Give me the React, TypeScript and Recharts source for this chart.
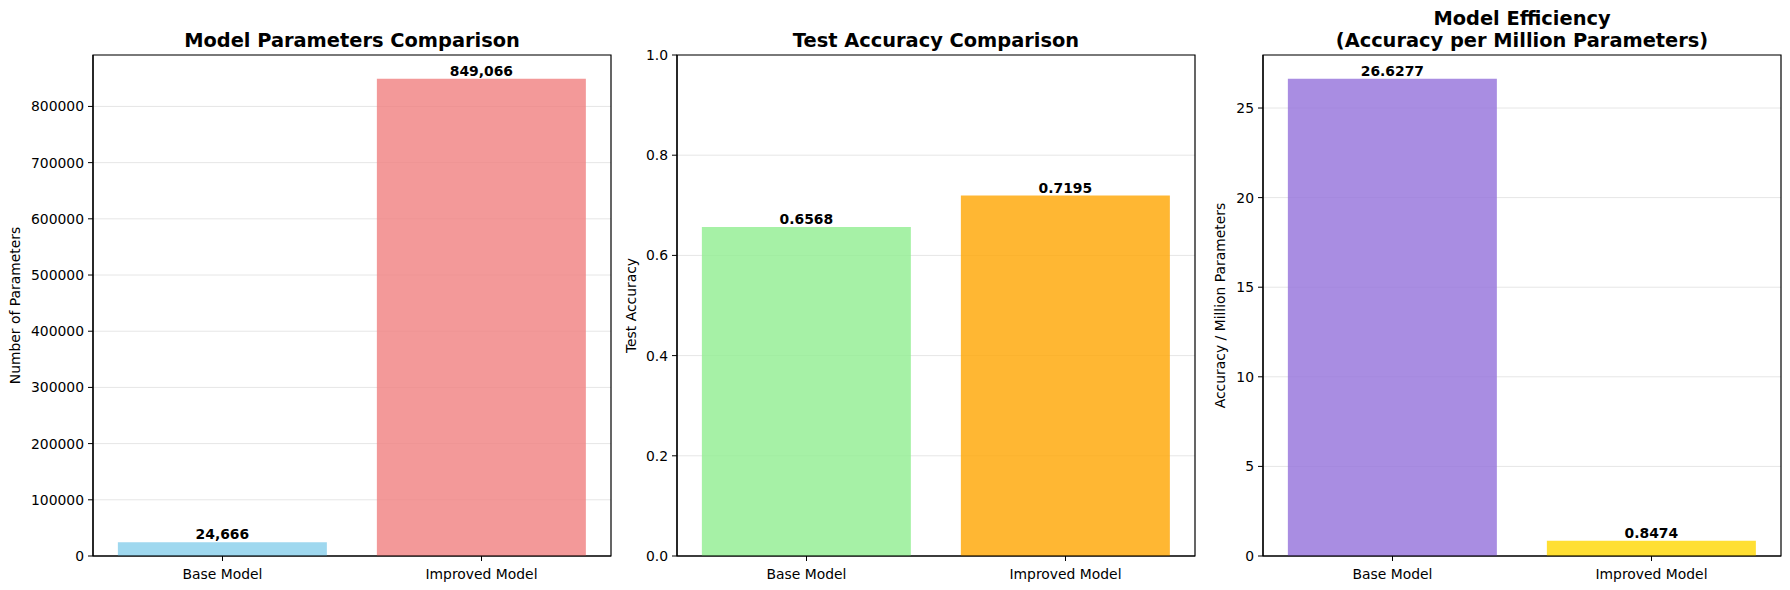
import React from "react";
import { BarChart, Bar, XAxis, YAxis, CartesianGrid, Cell, LabelList, ReferenceArea } from "recharts";

const models = ["Base Model", "Improved Model"];
const paramCounts = [24666, 849066];
const accuracies = [0.6568, 0.7195];
const efficiency = [26.6277, 0.8474];

const paramTicks = [0, 100000, 200000, 300000, 400000, 500000, 600000, 700000, 800000];
const accTicks = [0, 0.2, 0.4, 0.6, 0.8, 1.0];
const effTicks = [0, 5, 10, 15, 20, 25];

const paramColors = ["#87CEEB", "#F08080"];
const accColors = ["#90EE90", "#FFA500"];
const effColors = ["#9370DB", "#FFD700"];

const FONT = "'DejaVu Sans', sans-serif";
const FS = 13.9;

interface PanelProps {
  left: number;
  width: number;
  yWidth: number;
  rightMargin: number;
  values: number[];
  colors: string[];
  ticks: number[];
  domain: [number, number];
  tickFmt: (v: number) => string;
  labelFmt: (v: number) => string;
  yLabel: string;
  yLabelX: number;
  title: string[];
}

function Panel(p: PanelProps) {
  const data = models.map((m, i) => ({ name: m, value: p.values[i] }));
  const plotLeft = p.yWidth;
  const plotRight = p.width - p.rightMargin;
  const center = (plotLeft + plotRight) / 2;
  const tickStyle = { fill: "#000", fontSize: FS, fontFamily: FONT };

  return (
    <div style={{ position: "absolute", left: p.left, top: 0, width: p.width, height: 590 }}>
      <div
        style={{
          position: "absolute",
          left: center - 300,
          width: 600,
          bottom: 590 - 51.5,
          textAlign: "center",
          fontFamily: FONT,
          fontWeight: "bold",
          fontSize: 19.4,
          lineHeight: "22px",
          color: "#000",
        }}
      >
        {p.title.map((t) => (
          <div key={t}>{t}</div>
        ))}
      </div>
      <BarChart
        width={p.width}
        height={590}
        data={data}
        margin={{ top: 55, right: p.rightMargin, bottom: 4, left: 0 }}
        barCategoryGap="9.6%"
      >
        <CartesianGrid vertical={false} stroke="#e6e6e6" strokeWidth={1} />
        <XAxis
          dataKey="name"
          height={30}
          tick={tickStyle}
          tickSize={5}
          tickMargin={8}
          tickLine={{ stroke: "#000" }}
          axisLine={{ stroke: "#000", strokeWidth: 1.2 }}
        />
        <YAxis
          type="number"
          domain={p.domain}
          ticks={p.ticks}
          allowDataOverflow
          width={p.yWidth}
          tick={tickStyle}
          tickFormatter={p.tickFmt}
          tickSize={5}
          tickMargin={4}
          tickLine={{ stroke: "#000" }}
          axisLine={{ stroke: "#000", strokeWidth: 1.2 }}
          label={{
            content: ({ viewBox }: any) => {
              const cy = viewBox.y + viewBox.height / 2;
              const x = viewBox.x + p.yLabelX;
              return (
                <text
                  x={x}
                  y={cy}
                  transform={`rotate(-90 ${x} ${cy})`}
                  textAnchor="middle"
                  dominantBaseline="central"
                  fontSize={FS}
                  fontFamily={FONT}
                  fill="#000"
                >
                  {p.yLabel}
                </text>
              );
            },
          }}
        />
        <Bar dataKey="value" isAnimationActive={false}>
          {data.map((d, i) => (
            <Cell key={d.name} fill={p.colors[i]} fillOpacity={0.8} />
          ))}
          <LabelList
            dataKey="value"
            position="top"
            offset={3}
            formatter={(v: any) => p.labelFmt(Number(v))}
            style={{ fill: "#000", fontSize: FS, fontWeight: "bold", fontFamily: FONT }}
          />
        </Bar>
        <ReferenceArea
          y1={p.domain[0]}
          y2={p.domain[1]}
          fill="none"
          fillOpacity={0}
          stroke="#000"
          strokeWidth={1.2}
          ifOverflow="visible"
        />
      </BarChart>
    </div>
  );
}

export default function App() {
  return (
    <div
      style={{
        position: "absolute",
        left: 0,
        top: 0,
        width: 1790,
        height: 590,
        background: "#fff",
        overflow: "hidden",
      }}
    >
      <Panel
        left={0}
        width={640}
        yWidth={93}
        rightMargin={29}
        values={paramCounts}
        colors={paramColors}
        ticks={paramTicks}
        domain={[0, 849066 * 1.05]}
        tickFmt={(v) => String(v)}
        labelFmt={(v) => v.toLocaleString("en-US")}
        yLabel="Number of Parameters"
        yLabelX={15}
        title={["Model Parameters Comparison"]}
      />
      <Panel
        left={620}
        width={600}
        yWidth={57}
        rightMargin={25}
        values={accuracies}
        colors={accColors}
        ticks={accTicks}
        domain={[0, 1]}
        tickFmt={(v) => v.toFixed(1)}
        labelFmt={(v) => v.toFixed(4)}
        yLabel="Test Accuracy"
        yLabelX={11}
        title={["Test Accuracy Comparison"]}
      />
      <Panel
        left={1205}
        width={585}
        yWidth={58}
        rightMargin={9}
        values={efficiency}
        colors={effColors}
        ticks={effTicks}
        domain={[0, 26.6277 * 1.05]}
        tickFmt={(v) => String(v)}
        labelFmt={(v) => v.toFixed(4)}
        yLabel="Accuracy / Million Parameters"
        yLabelX={15}
        title={["Model Efficiency", "(Accuracy per Million Parameters)"]}
      />
    </div>
  );
}
